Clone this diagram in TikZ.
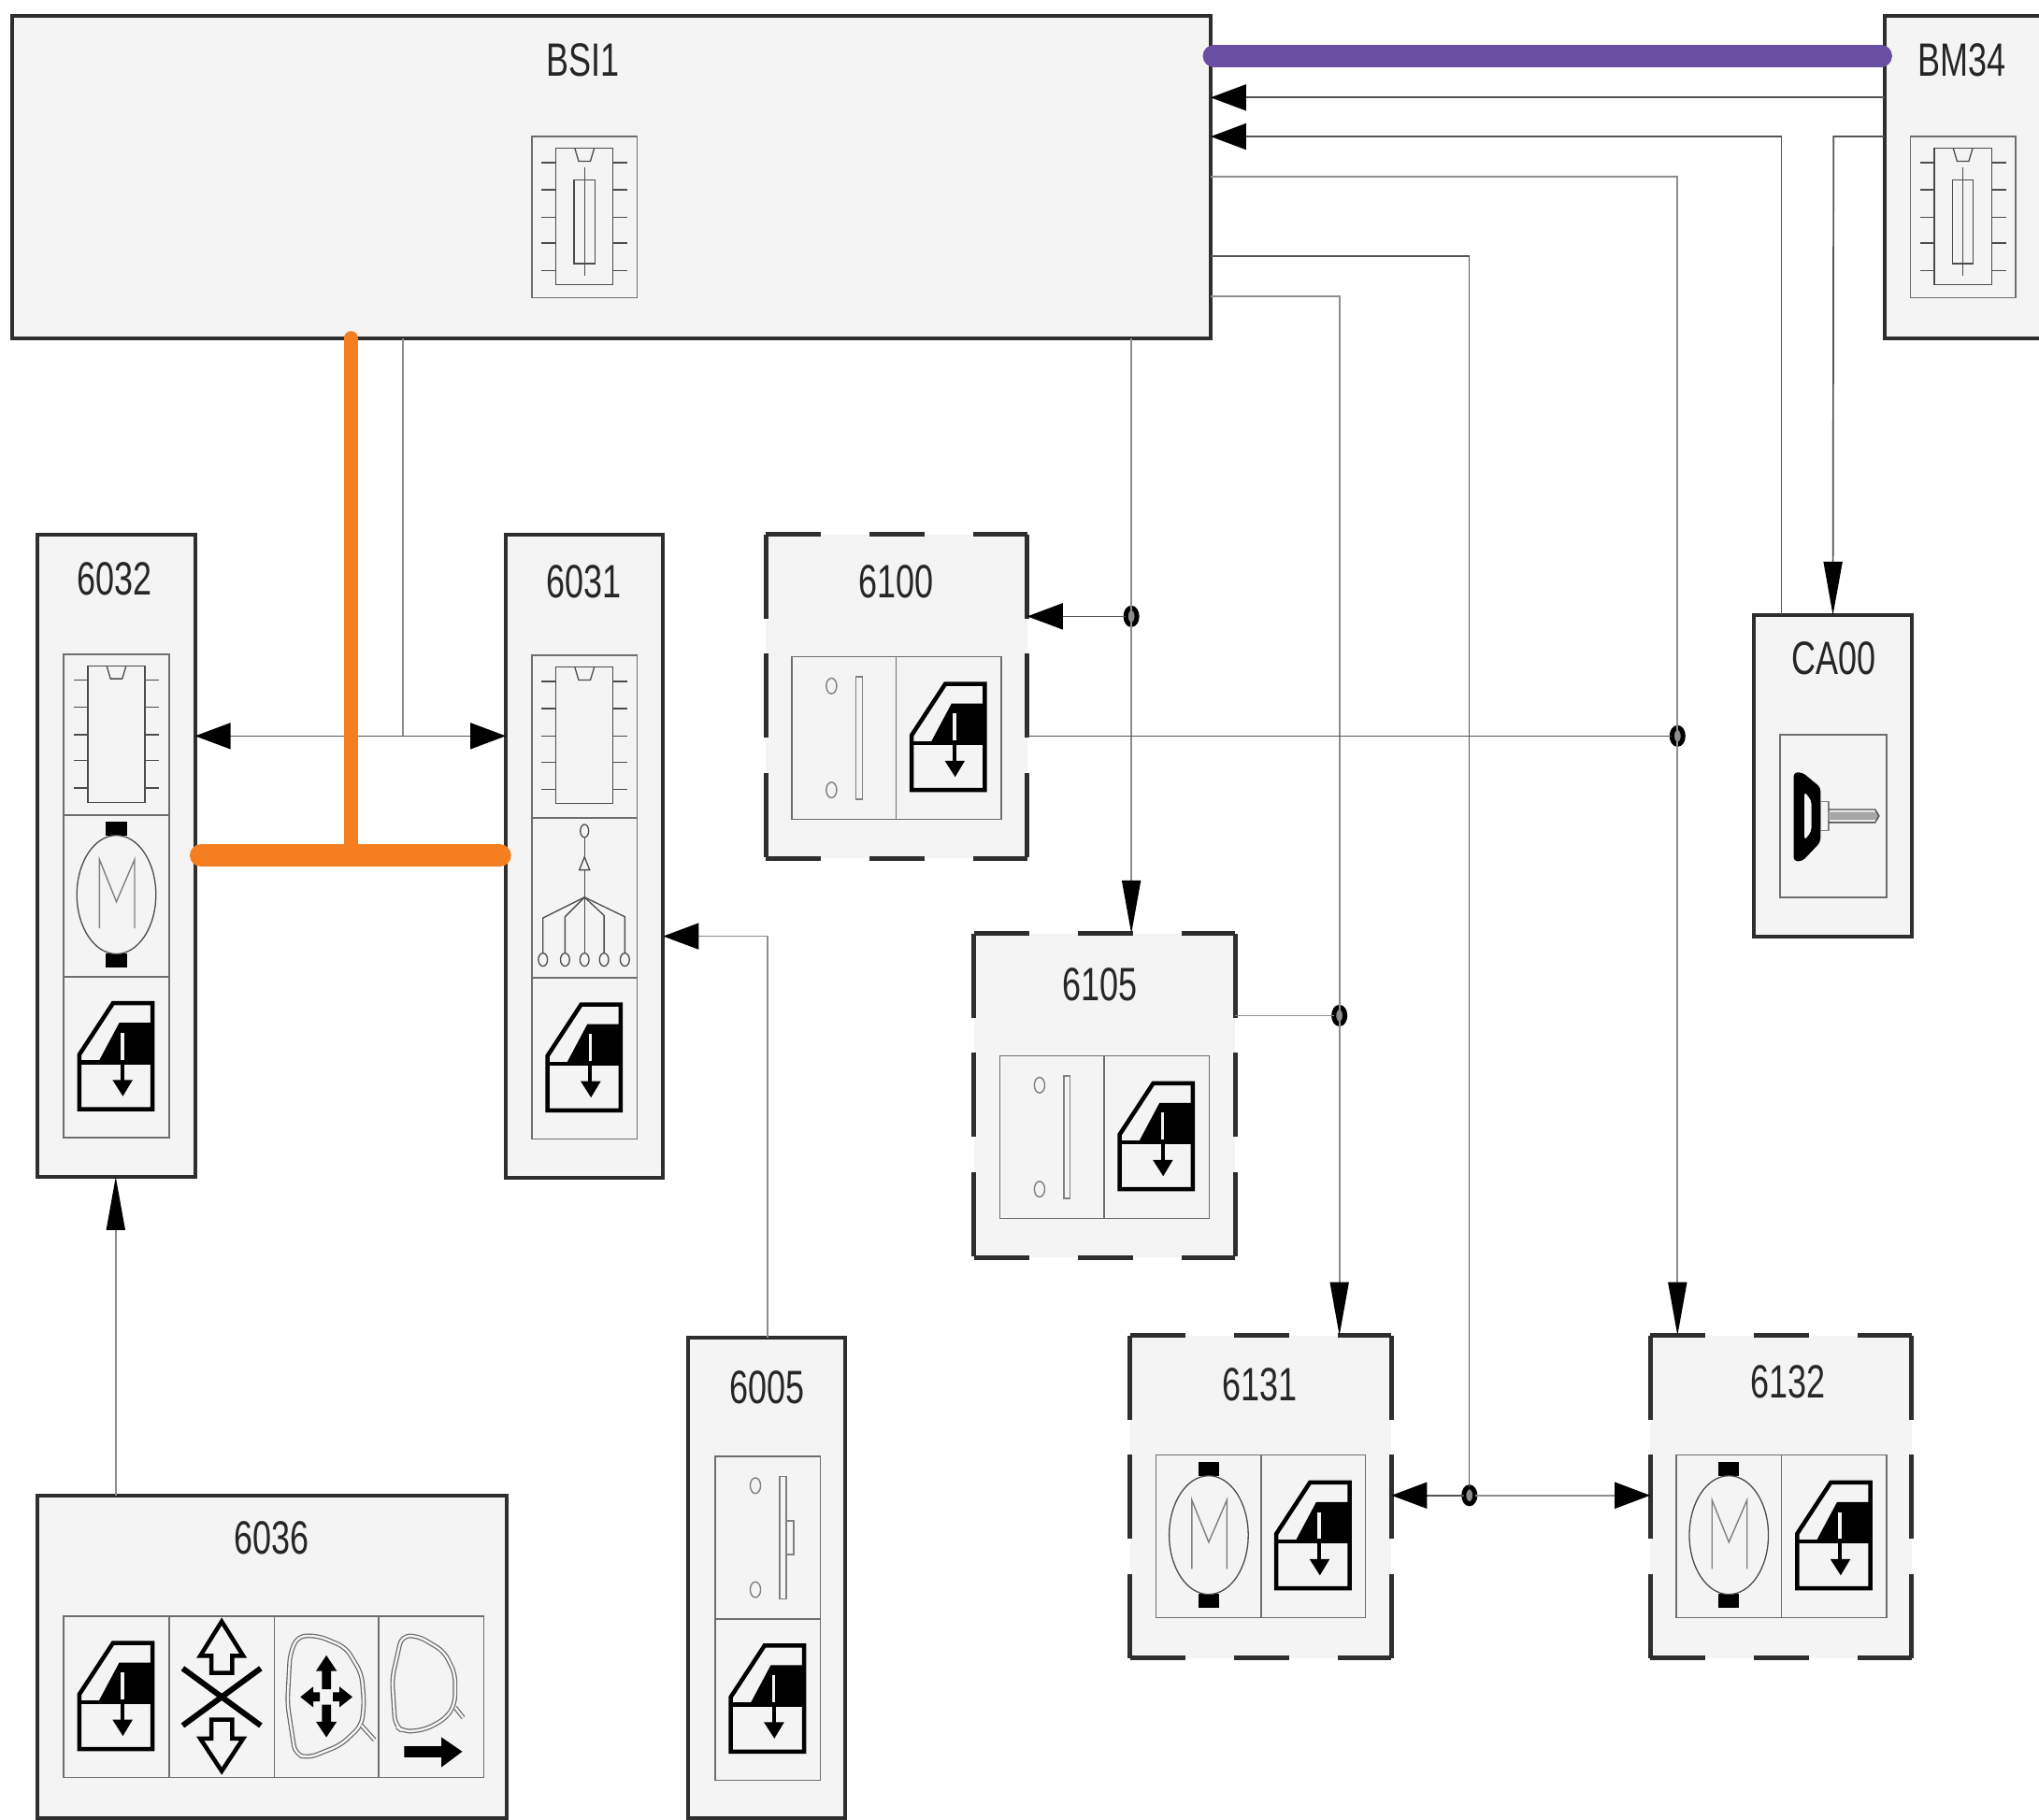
\documentclass[tikz,border=0pt]{standalone}
\usepackage{fontspec}
\setmainfont[FakeStretch=0.72]{Liberation Sans}
\usetikzlibrary{arrows.meta,fit,shapes.geometric,backgrounds}
\definecolor{boxfill}{HTML}{F4F4F4}
\definecolor{edgedark}{HTML}{2E2E2E}
\definecolor{wire}{HTML}{555555}
\definecolor{wirelight}{HTML}{8E8E8E}
\definecolor{cellline}{HTML}{6E6E6E}
\definecolor{busorange}{HTML}{F57F20}
\definecolor{buspurple}{HTML}{6A50A2}
\tikzset{
  anybox/.style={inner sep=0pt,outer sep=0pt,fill=boxfill},
  solidbox/.style={anybox,draw=edgedark,line width=4pt},
  dashbox/.style={anybox},
  cellbox/.style={inner sep=0pt,outer sep=0pt,draw=cellline,line width=1.6pt},
  boxlabel/.style={inner sep=0pt,font=\fontsize{50}{50}\selectfont,text=black!85},
  dashh/.style={draw=edgedark,line width=5pt,dash pattern=on 59pt off 52pt},
  dashv/.style={draw=edgedark,line width=5pt,dash pattern=on 90pt off 37.5pt},
  wireline/.style={draw=wire,line width=1.7pt},
  wirepale/.style={draw=wirelight,line width=1.7pt},
  hto/.style={-{Triangle[length=38pt,width=28pt,color=black]}},
  hfrom/.style={{Triangle[length=38pt,width=28pt,color=black]}-},
  hboth/.style={{Triangle[length=38pt,width=28pt,color=black]}-{Triangle[length=38pt,width=28pt,color=black]}},
  vto/.style={-{Triangle[length=57pt,width=20pt,color=black]}},
  orangebus/.style={draw=busorange,line cap=round},
  purplebus/.style={draw=buspurple,line width=24pt,line cap=round},
  joint/.style={ellipse,draw=black,line width=5pt,fill=black!45,minimum width=12pt,minimum height=18pt,inner sep=0pt,outer sep=0pt},
  thinicon/.style={draw=black!70,line width=1.3pt},
  paleicon/.style={draw=black!50,line width=1.4pt}
}
\newcommand{\iconwin}[2]{\begin{scope}[shift={(#1,#2)}]
  \fill[black] (2.2,-26.4)--(27.8,-26.4)--(27.8,4)--(-14,4)--cycle;
  \draw[black,line width=4.5pt,line join=miter] (-2.6,-41.5)--(27.8,-41.5)--(27.8,40)--(-28.5,40)--(-28.5,-2)--cycle;
  \draw[black,line width=4.5pt] (-28.5,4)--(27.8,4);
  \draw[boxfill,line width=3.5pt] (4.5,-18.7)--(4.5,2);
  \draw[black,line width=4pt] (4.5,4)--(4.5,20);
  \fill[black] (-3,17.5)--(12.5,17.5)--(5,30)--cycle;
\end{scope}}
\newcommand{\iconmotor}[2]{\begin{scope}[shift={(#1,#2)}]
  \fill[black] (-8,-57) rectangle (8,-46.5);
  \fill[black] (-8,44.5) rectangle (8,55);
  \draw[thinicon] (0,-1) ellipse [x radius=30.4,y radius=45.6];
  \draw[paleicon] (-13,25)--(-13,-28)--(0,4.5)--(14,-28)--(14,25);
\end{scope}}
\newcommand{\iconpins}{%
  \foreach \py in {-42,-21,0,20,41}{
    \draw[thinicon] (-33,\py)--(-22,\py);
    \draw[thinicon] (22,\py)--(33,\py);}
  \draw[thinicon] (-22,-53) rectangle (22,52);
  \draw[thinicon] (-7.5,-53)--(-4.5,-43)--(4.5,-43)--(7.5,-53);}
\newcommand{\iconchip}[2]{\begin{scope}[shift={(#1,#2)}]\iconpins\end{scope}}
\newcommand{\iconfuse}[2]{\begin{scope}[shift={(#1,#2)}]\iconpins
  \draw[thinicon] (-8,-28.5) rectangle (8,35.7);
  \draw[thinicon] (0,-38)--(0,45);
\end{scope}}
\newcommand{\icontree}[2]{\begin{scope}[shift={(#1,#2)}]
  \draw[thinicon] (0,-51) ellipse [x radius=3.2,y radius=5];
  \draw[thinicon] (0,-46)--(0,-31);
  \draw[thinicon] (0,-31)--(-4,-21)--(4,-21)--cycle;
  \draw[thinicon] (0,-21)--(0,0);
  \foreach \px/\py in {-32/16,-15/15,0/15,15/14,31/15}{
    \draw[thinicon] (0,0)--(\px,\py)--(\px,43);
    \draw[thinicon] (\px,48) ellipse [x radius=3.5,y radius=5];}
\end{scope}}
\newcommand{\iconswitch}[2]{\begin{scope}[shift={(#1,#2)}]
  \draw[paleicon] (-9.6,-40) ellipse [x radius=4,y radius=6];
  \draw[paleicon] (-9.6,40) ellipse [x radius=4,y radius=6];
  \draw[paleicon] (9,-47) rectangle (14,47);
\end{scope}}
\newcommand{\iconswitchtab}[2]{\begin{scope}[shift={(#1,#2)}]
  \draw[paleicon] (-9.6,-40) ellipse [x radius=4,y radius=6];
  \draw[paleicon] (-9.6,40) ellipse [x radius=4,y radius=6];
  \draw[paleicon] (9,-47) rectangle (14,47);
  \draw[paleicon] (14,-13) rectangle (20,13);
\end{scope}}
\newcommand{\iconkey}[2]{\begin{scope}[shift={(#1,#2)}]
  \fill[black,even odd rule,rounded corners=4pt] (-30.7,-33.5)--(-24,-33.5)--(-10,-22)--(-10,20)--(-24,34.8)--(-30.7,34.8)--cycle (-22.5,-19)--(-17,-12)--(-17,12)--(-22.5,19)--cycle;
  \draw[paleicon] (-9.8,-11) rectangle (-3.8,11);
  \fill[black!35] (-3.8,-3)--(33,-3)--(35,0)--(33,3)--(-3.8,3)--cycle;
  \draw[thinicon] (-3.8,-5)--(32,-5)--(35,0)--(32,5)--(-3.8,5);
\end{scope}}
\newcommand{\iconnoarrows}[2]{\begin{scope}[shift={(#1,#2)}]
  \draw[black,line width=4.5pt,line join=miter] (0,-58)--(16.5,-31.6)--(8,-31.6)--(8,-18.5)--(-8,-18.5)--(-8,-31.6)--(-16.5,-31.6)--cycle;
  \draw[black,line width=4.5pt,line join=miter] (0,57)--(16.5,32)--(8,32)--(8,17.5)--(-8,17.5)--(-8,32)--(-16.5,32)--cycle;
  \draw[black,line width=6pt] (-30,-22)--(30,22);
  \draw[black,line width=6pt] (30,-22)--(-30,22);
\end{scope}}
\newcommand{\iconmirrorfour}[2]{\begin{scope}[shift={(#1,#2)}]
  \draw[draw=black!60,double=boxfill,line width=1.2pt,double distance=2.4pt,rounded corners=9pt]
    (-22,-47)--(-6,-47)--(15,-38)--(27,-18)--(29,5)--(27,22)--(11,37)--(-14,47)--(-24,44)--(-30,5)--(-28,-33)--cycle;
  \draw[draw=black!60,double=boxfill,line width=1.2pt,double distance=2.4pt] (27,22)--(37,33);
  \fill[black] (0,-32)--(8,-20)--(3.5,-20)--(3.5,-6)--(-3.5,-6)--(-3.5,-20)--(-8,-20)--cycle;
  \fill[black] (0,31)--(8,19)--(3.5,19)--(3.5,6)--(-3.5,6)--(-3.5,19)--(-8,19)--cycle;
  \fill[black] (-20,0)--(-10,-8)--(-10,-3.5)--(-5,-3.5)--(-5,3.5)--(-10,3.5)--(-10,8)--cycle;
  \fill[black] (20,0)--(10,-8)--(10,-3.5)--(5,-3.5)--(5,3.5)--(10,3.5)--(10,8)--cycle;
\end{scope}}
\newcommand{\iconmirrorgo}[2]{\begin{scope}[shift={(#1,#2)}]
  \draw[draw=black!60,double=boxfill,line width=1.2pt,double distance=2.4pt,rounded corners=9pt]
    (-22.6,-47)--(-10,-47)--(10,-35)--(18.5,-18)--(18.5,5)--(12,16)--(-4,25)--(-21,27)--(-27.6,22)--(-30,-14)--cycle;
  \draw[draw=black!60,double=boxfill,line width=1.2pt,double distance=2.4pt] (18.5,8)--(24.7,16);
  \fill[black] (-20.6,38)--(8,38)--(8,31)--(24,42)--(8,54)--(8,46.3)--(-20.6,46.3)--cycle;
\end{scope}}
\newcommand{\dashframe}[1]{%
  \draw[dashh] (#1.north west)--(#1.north east);
  \draw[dashh] (#1.south west)--(#1.south east);
  \draw[dashv] (#1.north west)--(#1.south west);
  \draw[dashv] (#1.north east)--(#1.south east);}
\begin{document}
\begin{tikzpicture}[x=1.39094pt,y=-1.39107pt]
\useasboundingbox (0,0) rectangle (1568,1399);
% boxes
\node[solidbox,fit={(9,12)(931,260)}] (bsi) {};
\node[anybox,fit={(1449,12)(1568,260)}] (bm) {};
\draw[draw=edgedark,line width=4pt] (bm.north east)--(bm.north west)--(bm.south west)--(bm.south east);
\node[solidbox,fit={(29,411)(150,905)}] (m6032) {};
\node[solidbox,fit={(389,411)(510,906)}] (m6031) {};
\node[dashbox,fit={(589,411)(790,660)}] (m6100) {};
\node[dashbox,fit={(749,718)(950,967)}] (m6105) {};
\node[dashbox,fit={(869,1027)(1070,1275)}] (m6131) {};
\node[dashbox,fit={(1269,1027)(1470,1275)}] (m6132) {};
\node[solidbox,fit={(1349,473)(1470,720)}] (ca) {};
\node[solidbox,fit={(29,1150)(390,1398)}] (m6036) {};
\node[solidbox,fit={(529,1029)(650,1398)}] (m6005) {};
\dashframe{m6100}\dashframe{m6105}\dashframe{m6131}\dashframe{m6132}
% labels
\node[boxlabel] (lbsi) at (448,46) {BSI1};
\node[boxlabel] (lbm) at (1509,46) {BM34};
\node[boxlabel] (l6032) at (88,445) {6032};
\node[boxlabel] (l6031) at (449,447) {6031};
\node[boxlabel] (l6100) at (689,447) {6100};
\node[boxlabel] (l6105) at (846,757) {6105};
\node[boxlabel] (l6131) at (969,1065) {6131};
\node[boxlabel] (l6132) at (1375,1063) {6132};
\node[boxlabel] (lca) at (1410,506) {CA00};
\node[boxlabel] (l6036) at (209,1183) {6036};
\node[boxlabel] (l6005) at (590,1067) {6005};
% cells
\node[cellbox,fit={(409,105)(490,229)}] (cbsi) {};
\node[cellbox,fit={(1469,105)(1550,229)}] (cbm) {};
\node[cellbox,fit={(49,503)(130,627)}] (c6032a) {};
\node[cellbox,fit={(49,627)(130,751)}] (c6032b) {};
\node[cellbox,fit={(49,751)(130,875)}] (c6032c) {};
\node[cellbox,fit={(409,504)(490,629)}] (c6031a) {};
\node[cellbox,fit={(409,629)(490,752)}] (c6031b) {};
\node[cellbox,fit={(409,752)(490,876)}] (c6031c) {};
\node[cellbox,fit={(609,505)(689,630)}] (c6100a) {};
\node[cellbox,fit={(689,505)(770,630)}] (c6100b) {};
\node[cellbox,fit={(769,812)(849,937)}] (c6105a) {};
\node[cellbox,fit={(849,812)(930,937)}] (c6105b) {};
\node[cellbox,fit={(889,1119)(970,1244)}] (c6131a) {};
\node[cellbox,fit={(970,1119)(1050,1244)}] (c6131b) {};
\node[cellbox,fit={(1289,1119)(1370,1244)}] (c6132a) {};
\node[cellbox,fit={(1370,1119)(1451,1244)}] (c6132b) {};
\node[cellbox,fit={(1369,565)(1451,690)}] (cca) {};
\node[cellbox,fit={(49,1243)(130,1367)}] (c6036a) {};
\node[cellbox,fit={(130,1243)(211,1367)}] (c6036b) {};
\node[cellbox,fit={(211,1243)(291,1367)}] (c6036c) {};
\node[cellbox,fit={(291,1243)(372,1367)}] (c6036d) {};
\node[cellbox,fit={(550,1120)(631,1245)}] (c6005a) {};
\node[cellbox,fit={(550,1245)(631,1369)}] (c6005b) {};
% icons
\iconfuse{449.5}{167}
\iconfuse{1509.5}{167}
\iconchip{89.5}{565}
\iconmotor{89.5}{689}
\iconwin{89.5}{813}
\iconchip{449.5}{566}
\icontree{449.5}{690}
\iconwin{449.5}{814}
\iconswitch{649}{567.5}
\iconwin{729.5}{567.5}
\iconswitch{809}{874.5}
\iconwin{889.5}{874.5}
\iconmotor{929.5}{1181.5}
\iconwin{1010}{1181.5}
\iconmotor{1329.5}{1181.5}
\iconwin{1410.5}{1181.5}
\iconkey{1410}{627.5}
\iconwin{89.5}{1305}
\iconnoarrows{170.5}{1305}
\iconmirrorfour{251}{1305}
\iconmirrorgo{331.5}{1305}
\iconswitchtab{590.5}{1182.5}
\iconwin{590.5}{1307}
% wires
\node[joint] (j6100) at (870,474) {};
\node[joint] (j6105) at (1030,781) {};
\node[joint] (jca) at (1290,566) {};
\node[joint] (j613) at (1130,1150) {};
\draw[wireline,hto] (bm.west |- 0,75) -- (bsi.east |- 0,75);
\draw[wireline,hto] (ca.north -| 1370,0) -- (1370,105) -- (bsi.east |- 0,105);
\draw[wireline,vto] (bm.west |- 0,105) -- (1410,105) -- (ca.north);
\draw[wirepale,vto] (bsi.east |- 0,136) -- (1290,136) -- (m6132.north -| 1290,0);
\draw[wire,line width=1.4pt] (bsi.east |- 0,197) -- (1130,197) -- (j613);
\draw[wireline,hto] (j613) -- (m6131.east |- j613);
\draw[wirepale,hto,line width=2.4pt] (j613) -- (m6132.west |- j613);
\draw[wirepale,vto] (bsi.east |- 0,228) -- (1030,228) -- (m6131.north -| 1030,0);
\draw[wirepale] (m6105.east |- j6105) -- (j6105);
\draw[wirepale,vto] (bsi.south -| 870,0) -- (m6105.north -| 870,0);
\draw[wireline,hto] (j6100) -- (m6100.east |- j6100);
\draw[wireline] (m6100.east |- jca) -- (jca);
\draw[wirepale] (bsi.south -| 310,0) -- (310,566);
\draw[wireline,hboth] (m6032.east |- 0,566) -- (m6031.west |- 0,566);
\draw[wirepale,vto] (m6036.north -| 89,0) -- (m6032.south -| 89,0);
\draw[wirepale,hto] (m6005.north -| 590,0) -- (590,720) -- (m6031.east |- 0,720);
% buses
\draw[orangebus,line width=15pt] (bsi.south -| 270,0) -- (270,658);
\draw[orangebus,line width=24pt,shorten <=6.4pt,shorten >=6.4pt] (m6032.east |- 0,658) -- (m6031.west |- 0,658);
\draw[purplebus,shorten <=3.6pt,shorten >=3.6pt] (bsi.east |- 0,43) -- (bm.west |- 0,43);
\end{tikzpicture}
\end{document}
